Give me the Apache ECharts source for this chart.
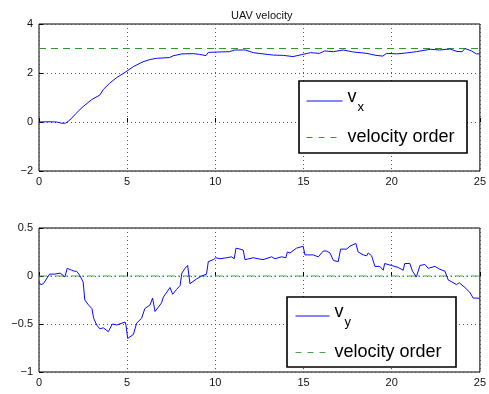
<!DOCTYPE html>
<html><head><meta charset="utf-8">
<script src="https://cdn.jsdelivr.net/npm/echarts@6/dist/echarts.min.js"></script>
<style>html,body{margin:0;padding:0;background:#fff}#c{width:489px;height:394px}</style>
</head><body><div id="c"></div>
<script>
// ---- data ----
const titleText = 'UAV velocity';
const xTicks = [0, 5, 10, 15, 20, 25];
const tX = [0,0.5,1.0,1.3,1.5,1.75,2.1,2.5,3.0,3.45,3.65,4.0,4.4,4.93,5.35,5.9,6.3,6.67,7.4,7.6,8.1,8.75,9.1,9.47,9.6,10.26,10.8,11.1,11.7,12.15,12.7,13.3,13.85,14.4,14.9,15.4,15.9,16.2,16.7,17.25,17.8,18.6,19.1,19.5,19.7,20.3,20.85,21.4,22.2,22.7,23.3,23.7,24.0,24.15,24.5,24.8,25];
const vx = [0,0.01,0.0,-0.05,-0.05,0.08,0.35,0.63,0.92,1.1,1.33,1.58,1.81,2.05,2.26,2.46,2.55,2.6,2.63,2.7,2.78,2.79,2.76,2.71,2.84,2.86,2.87,2.94,2.94,2.83,2.78,2.73,2.72,2.67,2.75,2.83,2.80,2.9,2.87,2.94,2.86,2.8,2.72,2.69,2.8,2.78,2.82,2.87,2.97,2.94,2.98,2.88,2.87,3.0,2.91,2.78,2.78];
const tY = [0,0.1,0.25,0.6,0.9,1.2,1.47,1.6,1.85,2.0,2.13,2.3,2.5,2.6,2.8,3.0,3.1,3.27,3.45,3.65,3.93,4.02,4.16,4.4,4.88,4.93,5.03,5.35,5.44,5.54,5.82,6.0,6.3,6.44,6.58,6.95,7.05,7.43,7.58,7.8,8.0,8.1,8.28,8.43,8.56,8.94,9.22,9.5,9.6,9.88,10.03,10.26,10.64,10.92,11.07,11.17,11.4,11.58,11.68,12.15,12.7,13.19,13.38,13.76,14.0,14.08,14.23,14.6,14.98,15.08,15.55,15.84,16.12,16.3,16.5,16.7,16.97,17.1,17.44,17.63,17.97,18.1,18.39,18.58,18.67,18.86,19.05,19.33,19.52,19.6,19.98,20.36,20.65,20.74,21.03,21.18,21.4,21.6,21.88,22.07,22.45,22.73,23.02,23.2,23.68,23.83,24.15,24.43,24.62,24.7,24.9,25];
const vy = [-0.06,-0.09,-0.08,0.02,0.02,0.03,-0.01,0.08,0.06,0.05,0.05,0.01,-0.06,-0.25,-0.3,-0.34,-0.44,-0.51,-0.55,-0.54,-0.58,-0.59,-0.5,-0.51,-0.48,-0.51,-0.65,-0.61,-0.6,-0.49,-0.44,-0.34,-0.3,-0.23,-0.37,-0.28,-0.22,-0.12,-0.19,-0.14,-0.1,0.03,0.08,0.11,-0.08,-0.03,0,0.02,0.15,0.17,0.19,0.18,0.19,0.2,0.18,0.29,0.28,0.27,0.17,0.19,0.17,0.2,0.18,0.2,0.19,0.25,0.24,0.29,0.31,0.22,0.22,0.2,0.26,0.26,0.24,0.16,0.15,0.28,0.28,0.31,0.34,0.25,0.22,0.21,0.24,0.21,0.1,0.1,0.06,0.13,0.11,0.09,0.06,0.13,0.13,0.05,-0.01,0.11,0.12,0.08,0.1,0.07,0.05,-0.04,-0.09,-0.07,-0.12,-0.17,-0.23,-0.21,-0.23,-0.24];
const orderT = [0, 25];
const vxOrder = [3, 3];
const vyOrder = [0, 0];
const names = { vx: 'vx', vy: 'vy', order: 'velocity order' };

// ---- build ----
const zip = (a, b) => a.map((v, i) => [v, b[i]]);
const FONT = '"Liberation Sans", Arial, Helvetica, sans-serif';
const minus = v => String(v).replace('-', '\u2212');
const BLUE = '#0a0aff';

function xAxis(gi) {
  return {
    type: 'value', gridIndex: gi, min: 0, max: 25, interval: 5,
    axisLine: { show: false }, axisTick: { inside: true, length: 4, lineStyle: { color: '#000' } },
    axisLabel: { color: '#111', fontSize: 11, fontFamily: FONT, margin: 5 },
    splitLine: { show: true, lineStyle: { color: '#555', type: [1, 3], width: 1 } }
  };
}
function yAxis(gi, min, max, iv) {
  return {
    type: 'value', gridIndex: gi, min, max, interval: iv,
    axisLine: { show: false }, axisTick: { inside: true, length: 4, lineStyle: { color: '#000' } },
    axisLabel: { color: '#111', fontSize: 11, fontFamily: FONT, margin: 6, formatter: minus },
    splitLine: { show: true, lineStyle: { color: '#555', type: [1, 3], width: 1 } }
  };
}
const rich = {
  v: { fontSize: 18, fontFamily: FONT, color: '#000', padding: [0, 0, 8, 0] },
  s: { fontSize: 13, fontFamily: FONT, color: '#000', padding: [12, 0, 0, 1] }
};
function legendFmt(n) {
  if (n === 'vx') return '{v|v}{s|x}';
  if (n === 'vy') return '{v|v}{s|y}';
  return n;
}
function legend(data, left, top, iw) {
  return {
    orient: 'vertical', left, top, padding: 0, itemGap: 15, itemWidth: iw, itemHeight: 12,
    z: 20, selectedMode: false,
    itemStyle: { opacity: 0, borderWidth: 0 },
    data: data,
    formatter: legendFmt,
    textStyle: { fontSize: 18, fontFamily: FONT, color: '#000', rich }
  };
}

const chart = echarts.init(document.getElementById('c'), null, { renderer: 'canvas' });
chart.setOption({
  animation: false,
  backgroundColor: '#fff',
  title: { text: titleText, left: 226, top: 5, textStyle: { fontSize: 11, fontWeight: 'normal', fontFamily: FONT, color: '#111' } },
  grid: [
    { left: 39, top: 24, width: 441, height: 147, show: true, borderColor: '#000', borderWidth: 1, backgroundColor: 'transparent' },
    { left: 39, top: 228, width: 441, height: 144, show: true, borderColor: '#000', borderWidth: 1, backgroundColor: 'transparent' }
  ],
  xAxis: [xAxis(0), xAxis(1)],
  yAxis: [yAxis(0, -2, 4, 2), yAxis(1, -1, 0.5, 0.5)],
  legend: [
    legend([{ name: 'vx', lineStyle: { opacity: 1, width: 1 } }, { name: names.order, lineStyle: { type: [6, 6], opacity: 1, width: 1 } }], 306, 88, 36),
    legend([{ name: 'vy', lineStyle: { opacity: 1, width: 1 } }, { name: names.order + ' ', lineStyle: { type: [6, 6], opacity: 1, width: 1 } }], 295, 303, 34)
  ],
  graphic: [
    { type: 'rect', z: 10, shape: { x: 299, y: 81, width: 168, height: 72 }, style: { fill: '#fff', stroke: '#000', lineWidth: 1.6 } },
    { type: 'rect', z: 10, shape: { x: 287, y: 297, width: 169, height: 70 }, style: { fill: '#fff', stroke: '#000', lineWidth: 1.6 } }
  ],
  series: [
    { name: 'vx', type: 'line', xAxisIndex: 0, yAxisIndex: 0, data: zip(tX, vx), showSymbol: false, symbol: 'none',
      lineStyle: { color: BLUE, width: 1 }, itemStyle: { color: BLUE }, z: 3 },
    { name: names.order, type: 'line', xAxisIndex: 0, yAxisIndex: 0, data: zip(orderT, vxOrder), showSymbol: false, symbol: 'none',
      lineStyle: { color: '#2e9a2e', width: 1, type: [7, 5] }, itemStyle: { color: '#2e9a2e' }, z: 2 },
    { name: 'vy', type: 'line', xAxisIndex: 1, yAxisIndex: 1, data: zip(tY, vy), showSymbol: false, symbol: 'none',
      lineStyle: { color: BLUE, width: 1 }, itemStyle: { color: BLUE }, z: 3 },
    { name: names.order + ' ', type: 'line', xAxisIndex: 1, yAxisIndex: 1, data: zip(orderT, vyOrder), showSymbol: false, symbol: 'none',
      lineStyle: { color: '#4aa54a', width: 1, type: [8, 3, 2, 3] }, itemStyle: { color: '#4aa54a' }, z: 2 }
  ]
});
</script></body></html>
